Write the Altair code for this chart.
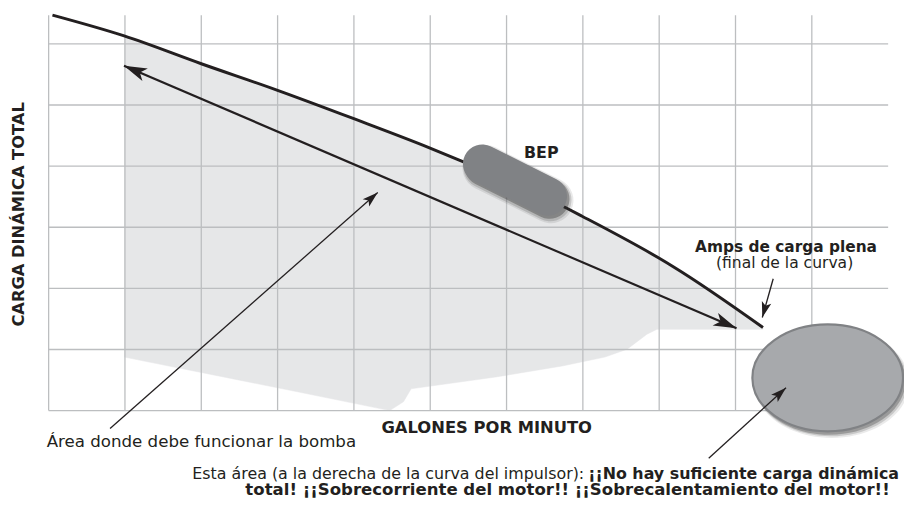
import math
import altair as alt
import pandas as pd

# ---------------- data (grid units: 1 unit = one grid cell) ----------------
x_grid = [0, 1, 2, 3, 4, 5, 6, 7, 8, 9, 10]
y_grid = [0, 1, 2, 3, 4, 5, 6]

# impeller (pump) curve
curve_gpm = [0.05, 0.99, 2.00, 3.00, 3.99, 4.99, 5.34, 6.79, 6.99, 7.99, 8.19, 9.36]
curve_head = [6.47, 6.13, 5.675, 5.24, 4.78, 4.30, 4.12, 3.31, 3.18, 2.50, 2.35, 1.36]

# lower boundary of the recommended operating area (left to right)
low_gpm = [0.99, 3.26, 4.47, 4.65, 4.75, 5.86, 6.73, 7.29, 7.58, 7.84, 7.97, 9.36]
low_head = [0.876, 0.308, 0.0, 0.146, 0.357, 0.55, 0.73, 0.876, 1.005, 1.25, 1.33, 1.33]

# BEP capsule (two cap centres)
bep_x = [5.682, 6.539]
bep_y = [4.038, 3.503]

# run-out ellipse centre
ell_x = [10.208]
ell_y = [0.535]

# arrows: tail -> tip
arr_name = ["range_a", "range_b", "area", "final", "ellipse"]
arr_tail_x = [9.013, 0.987, 0.805, 9.494, 8.649]
arr_tail_y = [1.346, 5.643, -0.292, 2.157, -0.778]
arr_tip_x = [0.987, 9.013, 4.312, 9.351, 9.662]
arr_tip_y = [5.643, 1.346, 3.567, 1.524, 0.373]
arr_kind = ["big", "big", "thin", "thin", "thin"]

# texts
ann_text = [
    "Área donde debe funcionar la bomba",
    "Esta área (a la derecha de la curva del impulsor):",
    "¡¡No hay suficiente carga dinámica",
    "total! ¡¡Sobrecorriente del motor!! ¡¡Sobrecalentamiento del motor!!",
    "BEP",
    "Amps de carga plena",
    "(final de la curva)",
    "GALONES POR MINUTO",
    "CARGA DINÁMICA TOTAL",
]
ann_x = [-0.026, 1.883, 11.143, 6.799, 6.455, 9.662, 9.643, 5.74, -0.325]
ann_y = [-0.60, -1.119, -1.119, -1.378, 4.135, 2.594, 2.335, -0.373, 3.21]
ann_align = ["left", "left", "right", "center", "center", "center", "center", "center", "center"]
ann_bold = [False, False, True, True, True, True, False, True, True]
ann_size = [16.8, 16, 16, 16.7, 16, 15.5, 15.7, 16.5, 16.4]
ann_angle = [0, 0, 0, 0, 0, 0, 0, 0, 270]

# ---------------- geometry / style ----------------
W, H = 847, 399
X_DOM = [0, 11]
Y_DOM = [0, 6.47]
PX_X = W / (X_DOM[1] - X_DOM[0])
PX_Y = H / (Y_DOM[1] - Y_DOM[0])
FONT = "DejaVu Sans"
INK = "#231f20"
GRID = "#bcbec0"
AREA = "#e6e7e8"

xs = alt.Scale(domain=X_DOM, nice=False, zero=False)
ys = alt.Scale(domain=Y_DOM, nice=False, zero=False)


def X(f):
    return alt.X(f, type="quantitative", scale=xs, axis=None)


def Y(f):
    return alt.Y(f, type="quantitative", scale=ys, axis=None)


# polygon of the grey operating area
poly_x = [x for x in curve_gpm if x >= 0.98] + low_gpm[::-1]
poly_y = [y for x, y in zip(curve_gpm, curve_head) if x >= 0.98] + low_head[::-1]
poly = pd.DataFrame({"x": poly_x, "y": poly_y, "o": range(len(poly_x))})

area = alt.Chart(poly).mark_line(
    fill=AREA, color=AREA, strokeWidth=0.5, interpolate="linear"
).encode(x=X("x"), y=Y("y"), order="o:O")

vgrid = alt.Chart(pd.DataFrame({"v": x_grid})).mark_rule(
    color=GRID, strokeWidth=1.3
).encode(x=X("v"))
hgrid = alt.Chart(pd.DataFrame({"v": y_grid})).mark_rule(
    color=GRID, strokeWidth=1.3
).encode(y=Y("v"))

curve = alt.Chart(pd.DataFrame({"x": curve_gpm, "y": curve_head})).mark_line(
    color=INK, strokeWidth=3, interpolate="monotone"
).encode(x=X("x"), y=Y("y"))

arr = pd.DataFrame({
    "name": arr_name, "x": arr_tail_x, "y": arr_tail_y,
    "x2": arr_tip_x, "y2": arr_tip_y, "kind": arr_kind,
})
arr["ang"] = [
    math.degrees(math.atan2((tx - sx) * PX_X, (ty - sy) * PX_Y)) % 360
    for sx, sy, tx, ty in zip(arr.x, arr.y, arr.x2, arr.y2)
]

big_line = alt.Chart(arr[arr.name == "range_a"]).mark_rule(
    color=INK, strokeWidth=2.2
).encode(x=X("x"), y=Y("y"), x2="x2", y2="y2")
thin_line = alt.Chart(arr[arr.kind == "thin"]).mark_rule(
    color=INK, strokeWidth=1.3
).encode(x=X("x"), y=Y("y"), x2="x2", y2="y2")

HEAD = "M0,0 L0.6,2 L0,1.5 L-0.6,2 Z"
HEAD_THIN = "M0,0 L0.62,2 L0,1.55 L-0.62,2 Z"
big_heads = alt.Chart(arr[arr.kind == "big"]).mark_point(
    shape=HEAD, size=540, filled=True, color=INK, opacity=1, strokeWidth=0
).encode(x=X("x2"), y=Y("y2"), angle=alt.Angle("ang:Q", scale=None))
thin_heads = alt.Chart(arr[arr.kind == "thin"]).mark_point(
    shape=HEAD_THIN, size=250, filled=True, color=INK, opacity=1, strokeWidth=0
).encode(x=X("x2"), y=Y("y2"), angle=alt.Angle("ang:Q", scale=None))

bep = pd.DataFrame({"x": [bep_x[0]], "y": [bep_y[0]], "x2": [bep_x[1]], "y2": [bep_y[1]]})
bep_layers = []
for w, op, dx, dy in [(46, 0.10, 3, 4), (43, 0.18, 2.5, 3.5), (40, 0.35, 2, 2.5)]:
    bep_layers.append(
        alt.Chart(bep).mark_rule(
            color="#2b2b2b", strokeWidth=w, strokeCap="round", opacity=op,
            xOffset=dx, yOffset=dy, x2Offset=dx, y2Offset=dy,
        ).encode(x=X("x"), y=Y("y"), x2="x2", y2="y2")
    )
bep_layers.append(
    alt.Chart(bep).mark_rule(color="#808285", strokeWidth=39, strokeCap="round").encode(
        x=X("x"), y=Y("y"), x2="x2", y2="y2"
    )
)

ELL = "M-1,0 A1,0.71 0 1,1 1,0 A1,0.71 0 1,1 -1,0 Z"
ell = pd.DataFrame({"x": ell_x, "y": ell_y})
ell_layers = []
for s, op, dx, dy in [(24600, 0.10, 4, 5), (23900, 0.18, 3, 4), (23400, 0.3, 2, 3)]:
    ell_layers.append(
        alt.Chart(ell).mark_point(
            shape=ELL, size=s, filled=True, color="#333333", opacity=op,
            strokeWidth=0, xOffset=dx, yOffset=dy,
        ).encode(x=X("x"), y=Y("y"))
    )
ell_layers.append(
    alt.Chart(ell).mark_point(
        shape=ELL, size=23104, filled=True, fill="#a7a9ac", stroke="#808285",
        strokeWidth=2.2, opacity=1,
    ).encode(x=X("x"), y=Y("y"))
)

texts = []
for t, x, y, al, b, fs, ang in zip(ann_text, ann_x, ann_y, ann_align, ann_bold, ann_size, ann_angle):
    props = dict(
        align=al, baseline="alphabetic", font=FONT, fontSize=fs,
        fontWeight="bold" if b else "normal", color=INK,
    )
    if ang:
        props["angle"] = ang
    texts.append(
        alt.Chart(pd.DataFrame({"t": [t], "x": [x], "y": [y]})).mark_text(**props).encode(
            x=X("x"), y=Y("y"), text="t"
        )
    )

chart = alt.layer(
    area, vgrid, hgrid, curve, big_line, big_heads,
    *bep_layers, *ell_layers, thin_line, thin_heads, *texts,
).properties(
    width=W, height=H,
    autosize=alt.AutoSizeParams(type="none"),
    padding={"left": 41, "top": 5, "right": 16, "bottom": 90},
    background="white",
).configure_view(strokeWidth=0)

chart.save("out.html", embed_options={"renderer": "svg", "actions": False})
